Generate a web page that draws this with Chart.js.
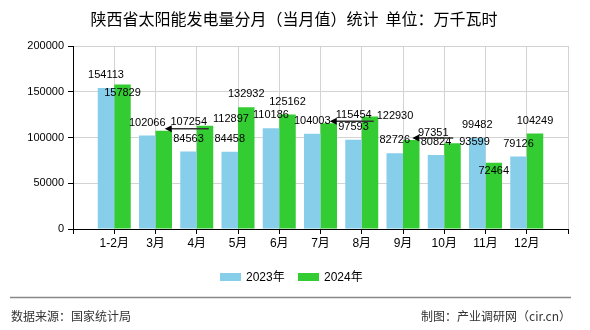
<!DOCTYPE html>
<html>
<head>
<meta charset="utf-8">
<script src="https://cdn.jsdelivr.net/npm/chart.js@4.4.1/dist/chart.umd.min.js"></script>
<style>
html,body{margin:0;padding:0;background:#fff;}
#c{display:block;}
</style>
</head>
<body>
<canvas id="c" width="590" height="330"></canvas>
<script>
// ---- data ----
const categories = ['1-2月','3月','4月','5月','6月','7月','8月','9月','10月','11月','12月'];
const values2023 = [154113, 102066, 84563, 84458, 110186, 104003, 97593, 82726, 80824, 99482, 79126];
const values2024 = [157829, 107254, 112897, 132932, 125162, 115454, 122930, 97351, 93599, 72464, 104249];
const seriesNames = ['2023年', '2024年'];
const yTicks = [0, 50000, 100000, 150000, 200000];

// ---- annotation layout (label nudges, not data) ----
const nudge2024 = [[0,21,false],[25,4,true],[26,6,false],[0,0,false],[0,0,false],[25,5,true],[25,12,false],[22,6,true],[22,12,false],[0,21,false],[0,0,false]];

const labels = [''].concat(categories, ['']);
const pad = arr => [null].concat(arr, [null]);

const CJK = '"Noto Sans CJK SC", "Liberation Sans", sans-serif';
const NUM = '"Liberation Sans", "Noto Sans CJK SC", sans-serif';
const BLUE = '#87CEEB', GREEN = '#33CC33';

const decor = {
  id: 'decor',
  afterDatasetsDraw(chart) {
    const ctx = chart.ctx;
    ctx.save();
    ctx.font = '11px ' + NUM;
    ctx.fillStyle = '#000';
    ctx.textAlign = 'center';
    ctx.textBaseline = 'middle';
    chart.data.datasets.forEach((ds, di) => {
      const meta = chart.getDatasetMeta(di);
      meta.data.forEach((el, i) => {
        const v = ds.data[i];
        if (v === null || v === undefined) return;
        let dx = 0, dy = 0, arrow = false;
        if (di === 1) { const n = nudge2024[i-1]; dx = n[0]; dy = n[1]; arrow = n[2]; }
        const lx = el.x + dx, ly = el.y - 13 + dy;
        if (arrow) {
          const y = el.y - 2;
          ctx.strokeStyle = '#333';
          ctx.lineWidth = 1.5;
          ctx.beginPath();
          ctx.moveTo(lx + 20, y);
          ctx.lineTo(el.x + 4, y);
          ctx.stroke();
          ctx.fillStyle = '#000';
          ctx.beginPath();
          ctx.moveTo(el.x + 1, y);
          ctx.lineTo(el.x + 8, y - 3.5);
          ctx.lineTo(el.x + 8, y + 3.5);
          ctx.closePath();
          ctx.fill();
        }
        ctx.fillStyle = '#000';
        ctx.fillText(String(v), lx, ly);
      });
    });
    ctx.restore();
  },
  afterDraw(chart) {
    const ctx = chart.ctx;
    ctx.save();
    // title
    ctx.fillStyle = '#000';
    ctx.font = '16px ' + CJK;
    ctx.textAlign = 'center';
    ctx.textBaseline = 'middle';
    ctx.fillText('陕西省太阳能发电量分月（当月值）统计  单位：万千瓦时', 294, 19);
    // legend
    const colors = [BLUE, GREEN];
    const boxX = [220, 298];
    ctx.font = '12px ' + NUM;
    ctx.textAlign = 'left';
    seriesNames.forEach((name, k) => {
      ctx.fillStyle = colors[k];
      ctx.fillRect(boxX[k], 273, 21, 8);
      ctx.fillStyle = '#000';
      ctx.fillText(name, boxX[k] + 26, 277.5);
    });
    // footer
    ctx.strokeStyle = '#888';
    ctx.lineWidth = 1.5;
    ctx.beginPath();
    ctx.moveTo(10, 297.5);
    ctx.lineTo(571, 297.5);
    ctx.stroke();
    ctx.fillStyle = '#333';
    ctx.font = '12px ' + CJK;
    ctx.textAlign = 'left';
    ctx.fillText('数据来源：国家统计局', 11, 316);
    ctx.textAlign = 'right';
    ctx.fillText('制图：产业调研网（cir.cn）', 571, 316);
    ctx.restore();
  }
};

new Chart(document.getElementById('c'), {
  type: 'bar',
  data: {
    labels: labels,
    datasets: [
      { label: seriesNames[0], data: pad(values2023), backgroundColor: BLUE, borderWidth: 0 },
      { label: seriesNames[1], data: pad(values2024), backgroundColor: GREEN, borderWidth: 0 }
    ]
  },
  options: {
    responsive: false,
    animation: false,
    devicePixelRatio: 1,
    layout: { padding: { top: 46, right: 22, bottom: 71, left: 0 } },
    datasets: { bar: { categoryPercentage: 0.8, barPercentage: 1.0 } },
    plugins: { legend: { display: false }, title: { display: false }, tooltip: { enabled: false } },
    scales: {
      x: {
        type: 'category',
        offset: false,
        afterFit: s => { s.height = 30; },
        grid: {
          offset: false,
          color: c => (c.index === 0 ? 'rgba(0,0,0,0)' : '#d3d3d3'),
          tickColor: '#000',
          tickLength: 5,
          lineWidth: 1
        },
        border: { color: '#000', width: 1 },
        ticks: { color: '#000', font: { family: NUM, size: 12 }, padding: 2, autoSkip: false, maxRotation: 0 }
      },
      y: {
        min: 0,
        max: 200000,
        afterFit: s => { s.width = 73; },
        afterBuildTicks: s => { s.ticks = yTicks.map(v => ({ value: v })); },
        grid: {
          color: c => (c.index === 0 ? 'rgba(0,0,0,0)' : '#d3d3d3'),
          tickColor: '#000',
          tickLength: 5,
          lineWidth: 1
        },
        border: { color: '#000', width: 1 },
        ticks: { color: '#000', font: { family: NUM, size: 11 }, padding: 4, callback: v => String(v) }
      }
    }
  },
  plugins: [decor]
});
</script>
</body>
</html>
